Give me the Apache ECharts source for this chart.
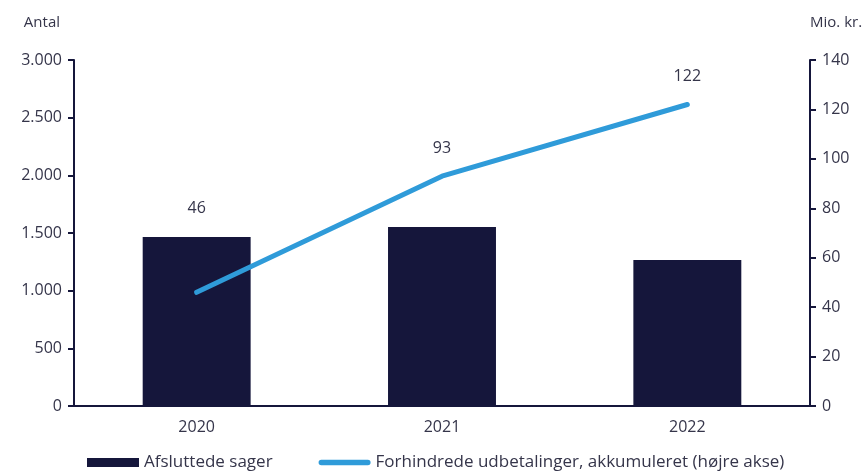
<!DOCTYPE html>
<html>
<head>
<meta charset="utf-8">
<script src="https://cdn.jsdelivr.net/npm/echarts@6/dist/echarts.min.js"></script>
<style>
  html, body { margin: 0; padding: 0; background: #fff; }
  #container { width: 866px; height: 476px; }
</style>
</head>
<body>
<div id="container"></div>
<script>
var years = ["2020", "2021", "2022"];
var sager = [1465, 1552, 1266];
var udbetalinger = [46, 93, 122];

var navy = "#15163b";
var blue = "#2f9bd9";
var txt = "#35354a";
var font = "Open Sans";

var myChart = echarts.init(document.getElementById("container"), null, { renderer: "canvas" });

// label for 2020 sits above the bar, not the point
var lineData = udbetalinger.map(function (v, i) {
  return { value: v, label: { distance: i === 0 ? 76 : 20 } };
});

var option = {
  animation: false,
  textStyle: { fontFamily: font },
  grid: { left: 74, right: 56, top: 60, bottom: 70 },
  legend: {
    bottom: 0,
    left: 82,
    itemGap: 46,
    itemWidth: 52,
    itemHeight: 9,
    textStyle: { fontSize: 17, color: txt, fontFamily: font },
    data: [
      { name: "Afsluttede sager", icon: "rect" },
      {
        name: "Forhindrede udbetalinger, akkumuleret (højre akse)",
        icon: "path://M3,0 L53,0 A3,3 0 0 1 53,6 L3,6 A3,3 0 0 1 3,0 Z"
      }
    ]
  },
  xAxis: {
    type: "category",
    data: years,
    axisLine: { lineStyle: { color: navy, width: 2 } },
    axisTick: { show: false },
    axisLabel: { fontSize: 16, color: txt, margin: 13 }
  },
  yAxis: [
    {
      type: "value",
      name: "Antal",
      nameLocation: "end",
      nameGap: 30,
      nameTextStyle: { fontSize: 15, color: txt, align: "right", padding: [0, 14, 0, 0] },
      min: 0, max: 3000, interval: 500,
      axisLine: { show: true, lineStyle: { color: navy, width: 2 } },
      axisTick: { show: true, length: 6, lineStyle: { color: navy, width: 2 } },
      splitLine: { show: false },
      axisLabel: {
        fontSize: 16, color: txt, margin: 12,
        formatter: function (v) { return v >= 1000 ? String(v).replace(/(\d)(\d{3})$/, "$1.$2") : String(v); }
      }
    },
    {
      type: "value",
      name: "Mio. kr.",
      nameLocation: "end",
      nameGap: 30,
      nameTextStyle: { fontSize: 15, color: txt, align: "left", padding: [0, 0, 0, 0] },
      min: 0, max: 140, interval: 20,
      axisLine: { show: true, lineStyle: { color: navy, width: 2 } },
      axisTick: { show: true, length: 6, lineStyle: { color: navy, width: 2 } },
      splitLine: { show: false },
      axisLabel: { fontSize: 16, color: txt, margin: 12 }
    }
  ],
  series: [
    {
      name: "Afsluttede sager",
      type: "bar",
      data: sager,
      barWidth: "44%",
      itemStyle: { color: navy }
    },
    {
      name: "Forhindrede udbetalinger, akkumuleret (højre akse)",
      type: "line",
      yAxisIndex: 1,
      data: lineData,
      symbol: "circle",
      symbolSize: 0,
      showSymbol: true,
      lineStyle: { color: blue, width: 5, cap: "round" },
      itemStyle: { color: blue },
      label: { show: true, position: "top", fontSize: 16, color: txt }
    }
  ]
};

myChart.setOption(option);
</script>
</body>
</html>
